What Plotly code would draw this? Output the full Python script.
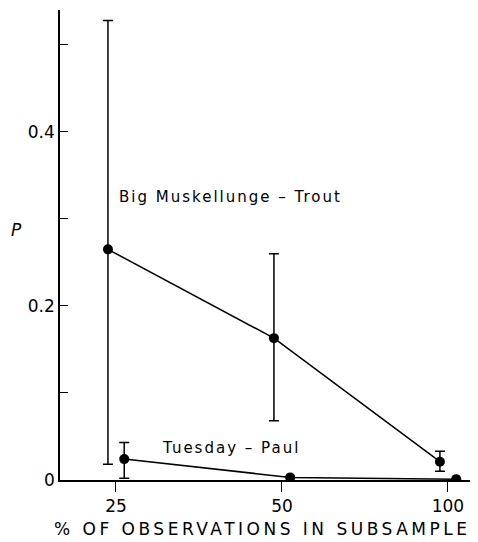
import math
import plotly.graph_objects as go

# Data
subsample_pct = [25, 50, 100]
big_p = [0.265, 0.163, 0.021]
big_hi = [0.528, 0.260, 0.033]
big_lo = [0.018, 0.068, 0.010]
tue_p = [0.024, 0.003, 0.001]
tue_hi = [0.043, 0.003, 0.001]
tue_lo = [0.002, 0.003, 0.001]
x_ticks = [25, 50, 100]
x_labels = ["25", "50", "100"]
y_ticks = [0, 0.2, 0.4]
y_labels = ["0", "0.2", "0.4"]

# slight horizontal dodge of the two series (multiplicative on log axis)
big_x = [v * 0.967 for v in subsample_pct]
tue_x = [v * 1.035 for v in subsample_pct]

FONT = "DejaVu Sans"
fig = go.Figure()

def add_series(xs, p, hi, lo):
    plus = [h - v for h, v in zip(hi, p)]
    minus = [v - l for v, l in zip(p, lo)]
    fig.add_trace(go.Scatter(
        x=xs, y=p, mode="lines+markers",
        line=dict(color="black", width=1.5),
        marker=dict(color="black", size=10),
        error_y=dict(type="data", symmetric=False, array=plus, arrayminus=minus,
                     color="black", thickness=1.5, width=5, visible=True),
        showlegend=False,
    ))

add_series(big_x, big_p, big_hi, big_lo)
add_series(tue_x, tue_p, tue_hi, tue_lo)

def spaced(t, ls):
    return f'<span style="letter-spacing:{ls}px">{t}</span>'

fig.add_annotation(x=math.log10(25.1), y=0.325, text=spaced("Big Muskellunge – Trout", 2),
                   showarrow=False, xanchor="left", yanchor="middle",
                   font=dict(family=FONT, size=15, color="black"))
fig.add_annotation(x=math.log10(30.0), y=0.037, text=spaced("Tuesday – Paul", 2),
                   showarrow=False, xanchor="left", yanchor="middle",
                   font=dict(family=FONT, size=15, color="black"))
fig.add_annotation(x=0, xref="paper", xshift=-44, y=0.287, text="<i>P</i>",
                   showarrow=False, xanchor="center", yanchor="middle",
                   font=dict(family=FONT, size=17, color="black"))
# x-axis title
fig.add_annotation(x=0.474, xref="paper", y=0, yref="paper", yshift=-49,
                   text=spaced("% OF OBSERVATIONS IN SUBSAMPLE", 3.5),
                   showarrow=False, xanchor="center", yanchor="middle",
                   font=dict(family=FONT, size=17, color="black"))

# page body has an 8px margin, so the margins are shifted to compensate
fig.update_layout(
    width=478, height=542,
    margin=dict(l=52, r=0, t=2, b=70),
    paper_bgcolor="white", plot_bgcolor="white",
    font=dict(family=FONT, size=17, color="black"),
    xaxis=dict(type="log", range=[1.2964, 2.069], tickvals=x_ticks, ticktext=x_labels,
               ticks="outside", ticklen=10, tickwidth=1.2, tickcolor="black",
               showline=True, linecolor="black", linewidth=1.5, showgrid=False, zeroline=False),
    yaxis=dict(range=[0, 0.54], tickvals=y_ticks, ticktext=y_labels,
               ticks="inside", ticklen=8, tickwidth=1.2, tickcolor="black",
               minor=dict(tickvals=[0.1, 0.3, 0.5], ticks="inside", ticklen=8,
                          tickwidth=1.2, tickcolor="black"),
               showline=True, linecolor="black", linewidth=1.5, showgrid=False, zeroline=False),
)

fig.write_html("out.html")
